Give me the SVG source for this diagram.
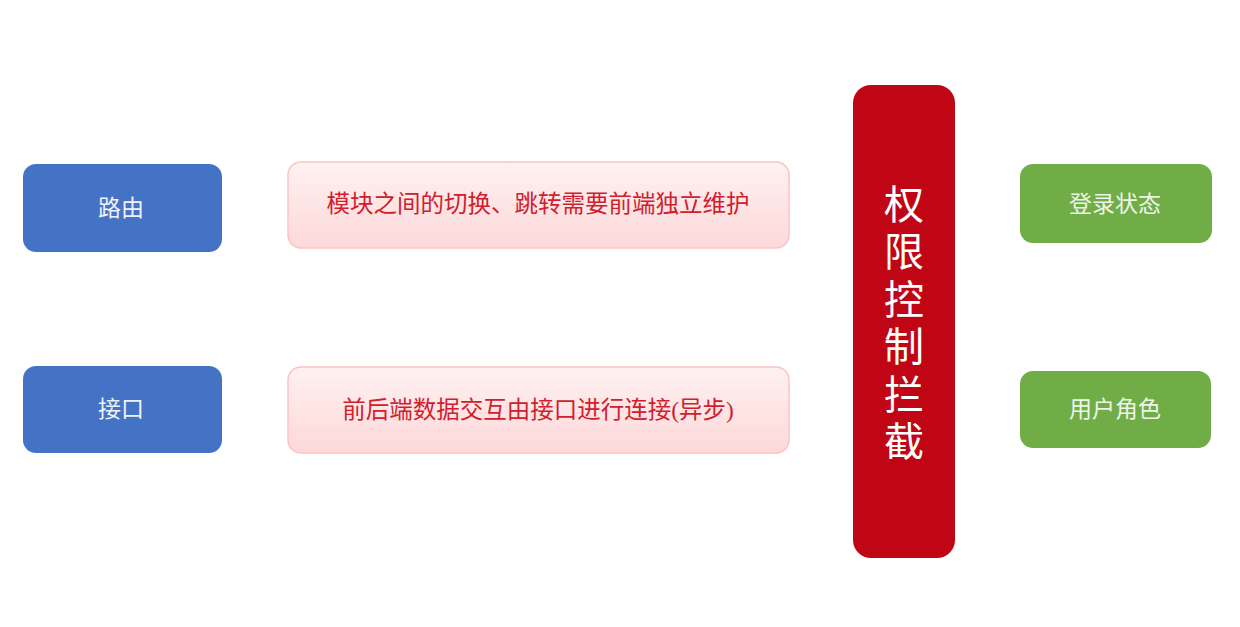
<svg xmlns="http://www.w3.org/2000/svg" width="1240" height="627" viewBox="0 0 1240 627">
<defs>
<linearGradient id="pinkGrad" x1="0" y1="0" x2="0" y2="1">
<stop offset="0" stop-color="#fff1f1"/>
<stop offset="1" stop-color="#fdd8d9"/>
</linearGradient>
</defs>
<style>
text{font-family:"Liberation Serif","Noto Sans CJK SC",serif;text-anchor:middle;dominant-baseline:central}
.blue{fill:#4472c4}
.green{fill:#70ad47}
.pink{fill:url(#pinkGrad);stroke:#fcc3c3;stroke-width:1.5}
.red{fill:#c00515}
.lt{fill:#eef2fa;font-size:23px}
.lg{fill:#eef5e8;font-size:23px}
.lp{fill:#d0202e;font-size:23.5px}
.lr{fill:#ffffff;font-size:40px}
</style>
<rect width="1240" height="627" fill="#ffffff"/>
<g id="route">
<rect class="blue" x="23" y="164" width="199" height="88" rx="13"/>
<text class="lt" x="121" y="208">路由</text>
</g>
<g id="api">
<rect class="blue" x="23" y="366" width="199" height="87" rx="13"/>
<text class="lt" x="121" y="409">接口</text>
</g>
<g id="route-desc">
<rect class="pink" x="288" y="162" width="501" height="86" rx="13"/>
<text class="lp" x="538" y="204">模块之间的切换、跳转需要前端独立维护</text>
</g>
<g id="api-desc">
<rect class="pink" x="288" y="367" width="501" height="86" rx="13"/>
<text class="lp" x="538" y="410">前后端数据交互由接口进行连接(异步)</text>
</g>
<g id="auth">
<rect class="red" x="853" y="85" width="102" height="473" rx="18"/>
<text class="lr" x="904" y="205">权</text>
<text class="lr" x="904" y="252">限</text>
<text class="lr" x="904" y="300">控</text>
<text class="lr" x="904" y="347">制</text>
<text class="lr" x="904" y="395">拦</text>
<text class="lr" x="904" y="442">截</text>
</g>
<g id="login">
<rect class="green" x="1020" y="164" width="192" height="79" rx="13"/>
<text class="lg" x="1115" y="204">登录状态</text>
</g>
<g id="role">
<rect class="green" x="1020" y="371" width="191" height="77" rx="13"/>
<text class="lg" x="1115" y="409">用户角色</text>
</g>
<g id="connectors"></g>
</svg>
